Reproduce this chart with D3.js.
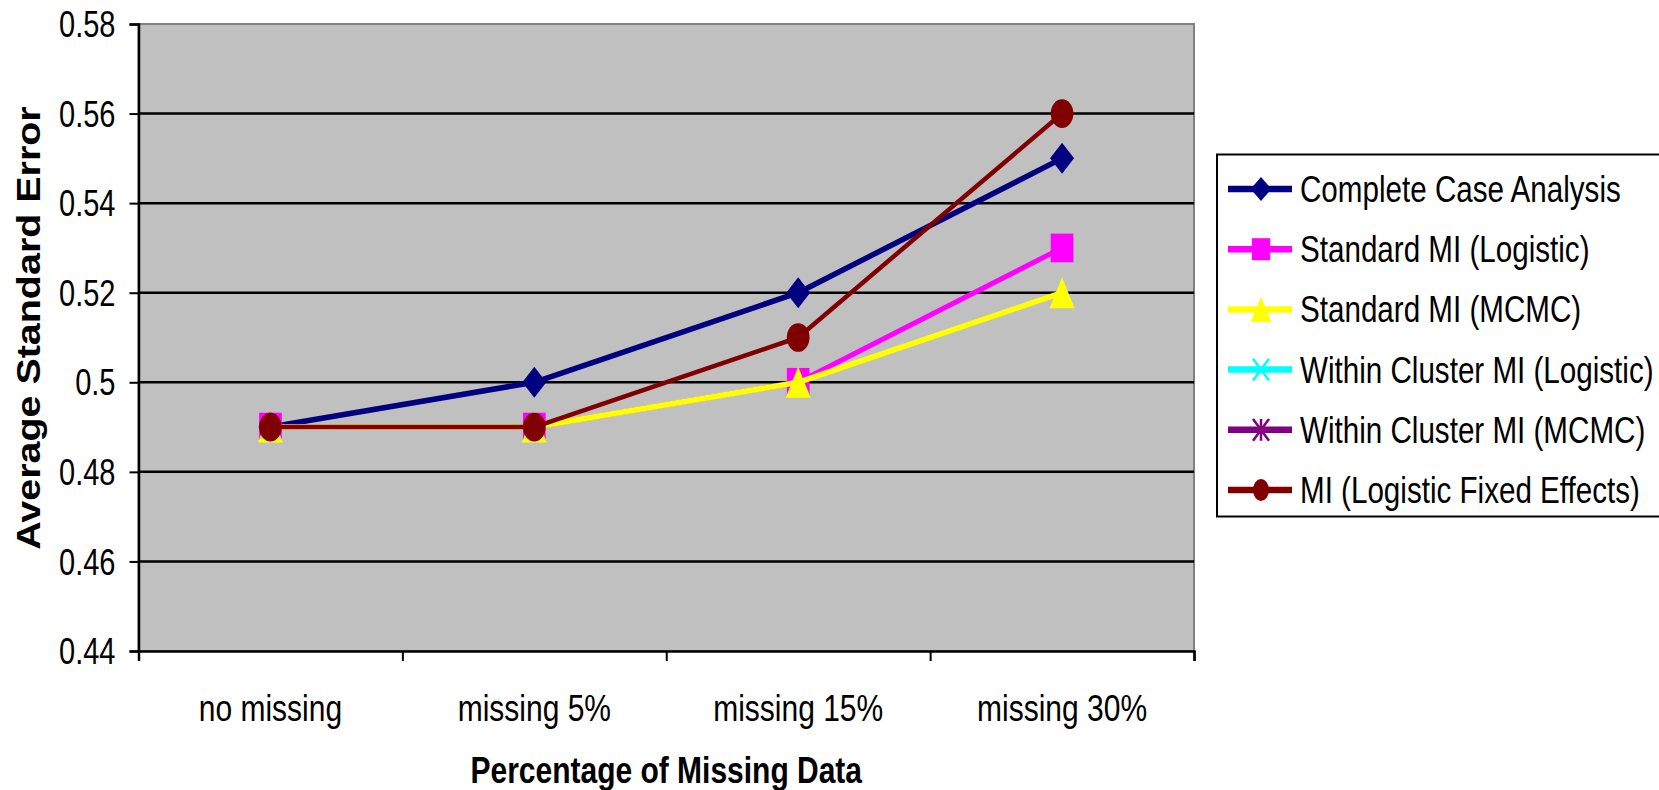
<!DOCTYPE html>
<html>
<head>
<meta charset="utf-8">
<script src="https://cdn.jsdelivr.net/npm/d3@7"></script>
<style>
  html, body { margin: 0; padding: 0; background: #fff; }
  svg { display: block; font-family: "Liberation Sans", Arial, sans-serif; }
</style>
</head>
<body>
<svg id="chart" width="1659" height="790"></svg>
<script>
const categories = ["no missing", "missing 5%", "missing 15%", "missing 30%"]
const yTicks = [0.44, 0.46, 0.48, 0.5, 0.52, 0.54, 0.56, 0.58]
const yTickLabels = ["0.44", "0.46", "0.48", "0.5", "0.52", "0.54", "0.56", "0.58"]

const seriesNames = [
  "Complete Case Analysis",
  "Standard MI (Logistic)",
  "Standard MI (MCMC)",
  "Within Cluster MI (Logistic)",
  "Within Cluster MI (MCMC)",
  "MI (Logistic Fixed Effects)"
]
const completeCase   = [0.49, 0.50, 0.52, 0.55]
const stdLogistic    = [0.49, 0.49, 0.50, 0.53]
const stdMCMC        = [0.49, 0.49, 0.50, 0.52]
const withinLogistic = []   // not visible in the plot, legend only
const withinMCMC     = []
const fixedEffects   = [0.49, 0.49, 0.51, 0.56]

const seriesValues = [completeCase, stdLogistic, stdMCMC, withinLogistic, withinMCMC, fixedEffects]
const seriesColors = ["#000080", "#ff00ff", "#ffff00", "#00ffff", "#800080", "#800000"]
const seriesMarkers = ["diamond", "square", "triangle", "cross", "star", "circle"]

const svg = d3.select("#chart")
const SY = 1.25  // text in the picture is stretched vertically

const plot = {left: 138.5, right: 1194, top: 24, bottom: 651}

const x = d3.scaleBand().domain(categories).range([plot.left, plot.right])
const xEdge = d3.scaleLinear().domain([0, categories.length]).range([plot.left, plot.right])
const y = d3.scaleLinear().domain([0.44, 0.58]).range([plot.bottom, plot.top])

// marker paths, w/h = bounding box
function markerPath(type, w, h){
  const a = w/2, b = h/2
  if (type === "diamond") return `M0,${-b}L${a},0L0,${b}L${-a},0Z`
  if (type === "square") return `M${-a},${-b}H${a}V${b}H${-a}Z`
  if (type === "triangle") return `M0,${-b}L${a},${b}L${-a},${b}Z`
  if (type === "circle") return `M${-a},0A${a},${b} 0 1,0 ${a},0A${a},${b} 0 1,0 ${-a},0Z`
  if (type === "cross") return `M${-a},${-b}L${a},${b}M${a},${-b}L${-a},${b}`
  if (type === "star") return `M${-a},${-b}L${a},${b}M${a},${-b}L${-a},${b}M0,${-b}V${b}`
  return ""
}
const plotMarkerSize = {
  diamond: [24, 31], square: [22.7, 28.7], triangle: [25, 31],
  circle: [22.7, 28.7], cross: [16, 21.7], star: [16, 21.7]
}
const legendMarkerSize = {
  diamond: [20.7, 24], square: [18.3, 22], triangle: [20.7, 25],
  circle: [16, 22], cross: [16, 21.7], star: [16, 21.7]
}
const lineWidths = [5.5, 5, 5.5, 5, 5, 4.5]

function drawMarker(g, type, color, cx, cy, size){
  const [w, h] = size[type]
  const open = type === "cross" || type === "star"
  g.append("path")
    .attr("d", markerPath(type, w, h))
    .attr("transform", `translate(${cx},${cy})`)
    .attr("fill", open ? "none" : color)
    .attr("stroke", open ? color : "none")
    .attr("stroke-width", open ? 2.5 : 0)
}

// PLOT AREA
svg.append("rect")
  .attr("x", plot.left).attr("y", plot.top)
  .attr("width", plot.right - plot.left).attr("height", plot.bottom - plot.top)
  .attr("fill", "#c0c0c0")
  .attr("stroke", "#808080")
  .attr("stroke-width", 2)

// gridlines
svg.append("g")
  .selectAll("line")
  .data(yTicks.slice(1, -1))
  .join("line")
    .attr("x1", plot.left).attr("x2", plot.right)
    .attr("y1", d => y(d)).attr("y2", d => y(d))
    .attr("stroke", "#000")
    .attr("stroke-width", 2.5)

// Y AXIS
const yAxis = svg.append("g")
  .attr("transform", `translate(${plot.left},0)`)
  .call(d3.axisLeft(y).tickValues(yTicks).tickSize(9).tickPadding(14)
    .tickFormat((d, i) => yTickLabels[i]))
yAxis.select(".domain").attr("stroke", "#000").attr("stroke-width", 2.5)
yAxis.selectAll(".tick line").attr("stroke", "#000").attr("stroke-width", 2)
yAxis.selectAll(".tick text")
  .attr("font-size", 29)
  .attr("fill", "#000")
  .attr("dy", "0.35em")
  .attr("transform", `scale(1,${SY})`)

// X AXIS (ticks between categories)
const xAxis = svg.append("g")
  .attr("transform", `translate(0,${plot.bottom})`)
  .call(d3.axisBottom(xEdge).tickValues(d3.range(categories.length + 1)).tickSize(10).tickFormat(""))
xAxis.select(".domain").attr("stroke", "#000").attr("stroke-width", 2.5)
xAxis.selectAll(".tick line").attr("stroke", "#000").attr("stroke-width", 2)

svg.append("g")
  .selectAll("text")
  .data(categories)
  .join("text")
    .attr("transform", d => `translate(${x(d) + x.bandwidth()/2},721) scale(1,${SY})`)
    .attr("text-anchor", "middle")
    .attr("font-size", 30)
    .text(d => d)

// axis titles
svg.append("text")
  .attr("transform", `translate(${(plot.left + plot.right)/2},783) scale(1,${SY})`)
  .attr("text-anchor", "middle")
  .attr("font-size", 30)
  .attr("font-weight", "bold")
  .text("Percentage of Missing Data")

svg.append("text")
  .attr("transform", `translate(40,328) rotate(-90) scale(1.16,1)`)
  .attr("text-anchor", "middle")
  .attr("font-size", 34)
  .attr("font-weight", "bold")
  .text("Average Standard Error")

// SERIES
const line = d3.line()
  .defined(d => d != null)
  .x((d, i) => x(categories[i]) + x.bandwidth()/2)
  .y(d => y(d))

seriesValues.forEach((vals, s) => {
  const g = svg.append("g")
  g.append("path")
    .datum(vals)
    .attr("d", line)
    .attr("fill", "none")
    .attr("stroke", seriesColors[s])
    .attr("stroke-width", lineWidths[s])
    .attr("stroke-linejoin", "round")
  vals.forEach((v, i) => {
    drawMarker(g, seriesMarkers[s], seriesColors[s],
      x(categories[i]) + x.bandwidth()/2, y(v), plotMarkerSize)
  })
})

// LEGEND
const legend = svg.append("g")
legend.append("rect")
  .attr("x", 1217).attr("y", 154.5)
  .attr("width", 460).attr("height", 362)
  .attr("fill", "#fff")
  .attr("stroke", "#000")
  .attr("stroke-width", 2)

const legendY = d3.scaleLinear().domain([0, 5]).range([189, 490])

seriesNames.forEach((name, s) => {
  const cy = legendY(s)
  legend.append("line")
    .attr("x1", 1228).attr("x2", 1292)
    .attr("y1", cy).attr("y2", cy)
    .attr("stroke", seriesColors[s])
    .attr("stroke-width", 6.5)
  drawMarker(legend, seriesMarkers[s], seriesColors[s], 1261, cy, legendMarkerSize)
  legend.append("text")
    .attr("transform", `translate(1300,${cy + 13}) scale(1,${SY})`)
    .attr("font-size", 29.6)
    .text(name)
})
</script>
</body>
</html>
